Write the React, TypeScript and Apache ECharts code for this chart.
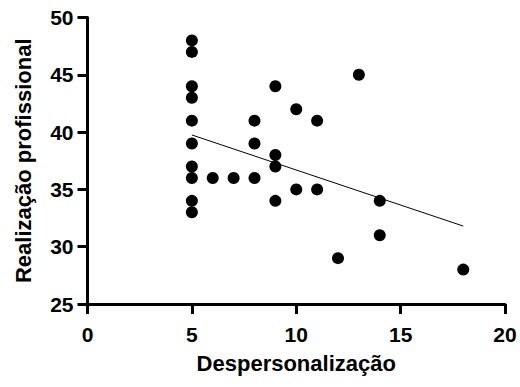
import React, { useEffect, useRef } from "react";
import * as echarts from "echarts";

const xValues = [5, 5, 5, 5, 5, 5, 5, 5, 5, 5, 6, 7, 8, 8, 8, 9, 9, 9, 9, 10, 10, 11, 11, 12, 13, 14, 14, 18];
const yValues = [48, 47, 44, 43, 41, 39, 37, 36, 34, 33, 36, 36, 41, 39, 36, 44, 38, 37, 34, 42, 35, 41, 35, 29, 45, 34, 31, 28];
const fitX = [5, 18];
const fitY = [39.75, 31.8];
const xTicks = { min: 0, max: 20, interval: 5 };
const yTicks = { min: 25, max: 50, interval: 5 };
const xTitle = "Despersonalização";
const yTitle = "Realização profissional";

const FONT = "'Liberation Sans', Arial, sans-serif";

export default function App() {
  const ref = useRef<HTMLDivElement>(null);
  useEffect(() => {
    if (!ref.current) return;
    const chart = echarts.init(ref.current, undefined, { renderer: "svg" });
    const points = xValues.map((x, i) => [x, yValues[i]]);
    const fit = fitX.map((x, i) => [x, fitY[i]]);
    const axisLine = { show: true, onZero: false, lineStyle: { color: "#000", width: 3, opacity: 1 } };
    const axisTick = { show: true, length: 10, lineStyle: { color: "#000", width: 3, opacity: 1 } };
    chart.setOption({
      animation: false,
      backgroundColor: "#fff",
      grid: {
        left: 87.5,
        right: 15,
        top: 17.5,
        bottom: 83,
        containLabel: false,
        outerBoundsMode: "none",
      },
      xAxis: {
        type: "value",
        min: xTicks.min,
        max: xTicks.max,
        interval: xTicks.interval,
        name: xTitle,
        nameLocation: "middle",
        nameGap: 48,
        nameTextStyle: { fontFamily: FONT, fontWeight: 700, fontSize: 22, color: "#000" },
        axisLine,
        axisTick,
        splitLine: { show: false },
        axisLabel: { fontFamily: FONT, fontWeight: 700, fontSize: 21, color: "#000", margin: 20 },
      },
      yAxis: {
        type: "value",
        min: yTicks.min,
        max: yTicks.max,
        interval: yTicks.interval,
        name: yTitle,
        nameLocation: "middle",
        nameGap: 53,
        nameTextStyle: { fontFamily: FONT, fontWeight: 700, fontSize: 22, color: "#000" },
        axisLine,
        axisTick,
        splitLine: { show: false },
        axisLabel: { fontFamily: FONT, fontWeight: 700, fontSize: 21, color: "#000", margin: 14 },
      },
      series: [
        {
          type: "line",
          data: fit,
          showSymbol: false,
          symbol: "none",
          lineStyle: { color: "#000", width: 1 },
          z: 1,
        },
        {
          type: "scatter",
          data: points,
          symbol: "circle",
          symbolSize: 12,
          itemStyle: { color: "#000", opacity: 1 },
          z: 2,
        },
      ],
    });
    return () => chart.dispose();
  }, []);
  return <div ref={ref} style={{ width: 520, height: 387, position: "absolute", left: 0, top: 0 }} />;
}
